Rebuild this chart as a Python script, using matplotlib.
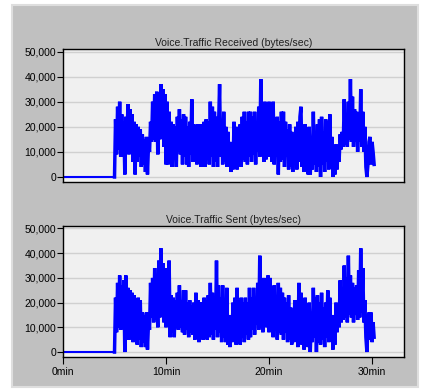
import numpy as np
import matplotlib
matplotlib.use("Agg")
import matplotlib.pyplot as plt
from matplotlib.patches import Rectangle
from matplotlib.ticker import FuncFormatter

plt.rcParams['font.family'] = ['Liberation Sans', 'DejaVu Sans']

# idle period, then one sample every 0.1 min from 5.1 to 30.2 min
idle_minutes = [0.0, 5.0]
active_minutes = np.round(np.arange(5.1, 30.25, 0.1), 1)

# values in thousands of bytes/sec, one row per minute
received_k = [
    23, 9, 28, 11, 30, 8, 25, 12, 22, 1,
    24, 10, 29, 9, 27, 10, 25, 6, 22, 1,
    21, 6, 20, 8, 19, 4, 17, 5, 15, 2,
    16, 1, 13, 10, 22, 14, 30, 15, 33, 14,
    34, 9, 26, 15, 37, 16, 35, 12, 33, 5,
    30, 5, 26, 8, 22, 4, 21, 9, 20, 4,
    24, 10, 27, 9, 23, 5, 25, 8, 24, 5,
    20, 4, 22, 9, 31, 6, 21, 8, 20, 5,
    21, 7, 21, 4, 20, 8, 22, 4, 23, 9,
    22, 5, 30, 8, 28, 4, 26, 6, 24, 4,
    20, 37, 8, 22, 5, 26, 6, 20, 4, 18,
    6, 14, 2, 12, 3, 22, 6, 20, 3, 18,
    9, 21, 4, 24, 7, 26, 6, 22, 5, 26,
    8, 26, 6, 24, 9, 26, 5, 22, 10, 28,
    8, 39, 10, 24, 6, 30, 7, 28, 10, 30,
    8, 29, 6, 30, 5, 20, 8, 24, 1, 22,
    6, 26, 7, 26, 4, 22, 8, 19, 3, 21,
    4, 18, 2, 15, 5, 20, 3, 22, 6, 24,
    28, 4, 14, 2, 21, 6, 16, 1, 20, 1,
    12, 3, 26, 5, 18, 2, 21, 4, 23, 0,
    24, 5, 18, 2, 23, 6, 22, 3, 25, 5,
    16, 0, 12, 1, 13, 3, 12, 6, 17, 11,
    18, 12, 31, 13, 24, 12, 30, 15, 39, 14,
    32, 12, 27, 14, 26, 10, 25, 14, 35, 12,
    26, 10, 20, 4, 0, 5, 14, 16, 5, 14,
    10, 5,
]

sent_k = [
    22, 8, 28, 10, 31, 9, 27, 10, 29, 0,
    31, 10, 26, 5, 25, 8, 24, 4, 23, 6,
    20, 3, 22, 5, 21, 2, 16, 4, 15, 2,
    16, 1, 12, 9, 28, 14, 30, 12, 34, 13,
    25, 10, 37, 14, 42, 15, 36, 12, 34, 10,
    32, 12, 37, 6, 23, 8, 22, 6, 21, 10,
    24, 9, 27, 10, 21, 8, 25, 7, 25, 9,
    20, 6, 21, 8, 19, 7, 20, 5, 24, 6,
    21, 4, 20, 9, 20, 5, 22, 6, 21, 5,
    23, 6, 28, 7, 24, 5, 22, 9, 37, 6,
    27, 8, 22, 4, 27, 6, 20, 4, 26, 3,
    15, 2, 14, 4, 20, 6, 22, 3, 26, 5,
    18, 3, 22, 6, 20, 4, 22, 7, 20, 5,
    26, 6, 22, 9, 26, 7, 20, 11, 28, 9,
    39, 10, 24, 8, 30, 12, 28, 10, 31, 8,
    30, 9, 25, 6, 27, 10, 22, 5, 28, 8,
    26, 7, 24, 5, 22, 8, 20, 4, 23, 5,
    18, 3, 16, 4, 21, 6, 14, 2, 28, 5,
    24, 3, 14, 1, 22, 5, 16, 2, 20, 0,
    13, 4, 26, 6, 22, 0, 23, 4, 20, 3,
    24, 5, 18, 2, 20, 6, 25, 4, 22, 6,
    15, 1, 12, 3, 20, 8, 18, 10, 29, 12,
    22, 13, 35, 14, 30, 12, 39, 15, 31, 14,
    28, 12, 26, 15, 27, 13, 33, 14, 42, 16,
    34, 12, 21, 6, 0, 10, 16, 5, 16, 4,
    12, 6,
]

titles = ["Voice.Traffic Received (bytes/sec)", "Voice.Traffic Sent (bytes/sec)"]
y_ticks = [0, 10000, 20000, 30000, 40000, 50000]
x_ticks = [0, 10, 20, 30]
x_labels = ["0min", "10min", "20min", "30min"]

W, H = 424, 392
fig = plt.figure(figsize=(W / 100, H / 100), dpi=100, facecolor="white")

# gray panel behind the two graphs
fig.patches.append(Rectangle((12 / W, 1 - 387 / H), 406 / W, 382 / H,
                             transform=fig.transFigure, facecolor="#c0c0c0",
                             edgecolor="#dedede", linewidth=1.5, zorder=-10))

boxes = [(63, 49, 404, 182), (63, 226, 404, 357)]
series = [received_k, sent_k]
minutes = np.concatenate([idle_minutes, active_minutes])

for i, (box, vals, title) in enumerate(zip(boxes, series, titles)):
    l, t, r, b = box
    ax = fig.add_axes([l / W, 1 - b / H, (r - l) / W, (b - t) / H])
    ax.set_facecolor("#f0f0f0")
    ax.plot(minutes[:2], [0, 0], color="#0000ff", linewidth=1.5)
    ax.plot(minutes[1:], np.concatenate([[0], np.array(vals) * 1000]),
            color="#0000ff", linewidth=2.5, solid_joinstyle="miter")
    ax.set_xlim(0, 33.1)
    ax.set_ylim(-2000, 51000)
    ax.set_yticks(y_ticks)
    ax.yaxis.set_major_formatter(FuncFormatter(lambda v, p: f"{int(v):,}"))
    ax.grid(axis="y", color="#d0d0d0", linewidth=1.0)
    ax.set_axisbelow(True)
    ax.tick_params(axis="y", length=4, width=0.8, labelsize=7.5, pad=1)
    if i == 1:
        ax.set_xticks(x_ticks)
        ax.set_xticklabels(x_labels)
        ax.tick_params(axis="x", length=5, width=0.8, labelsize=7.5, pad=2)
    else:
        ax.set_xticks([])
    for s in ax.spines.values():
        s.set_color("black")
        s.set_linewidth(1.0)
    ax.set_title(title, fontsize=7.5, pad=2, color="#202020")

fig.savefig("out.png", dpi=100, facecolor="white")
